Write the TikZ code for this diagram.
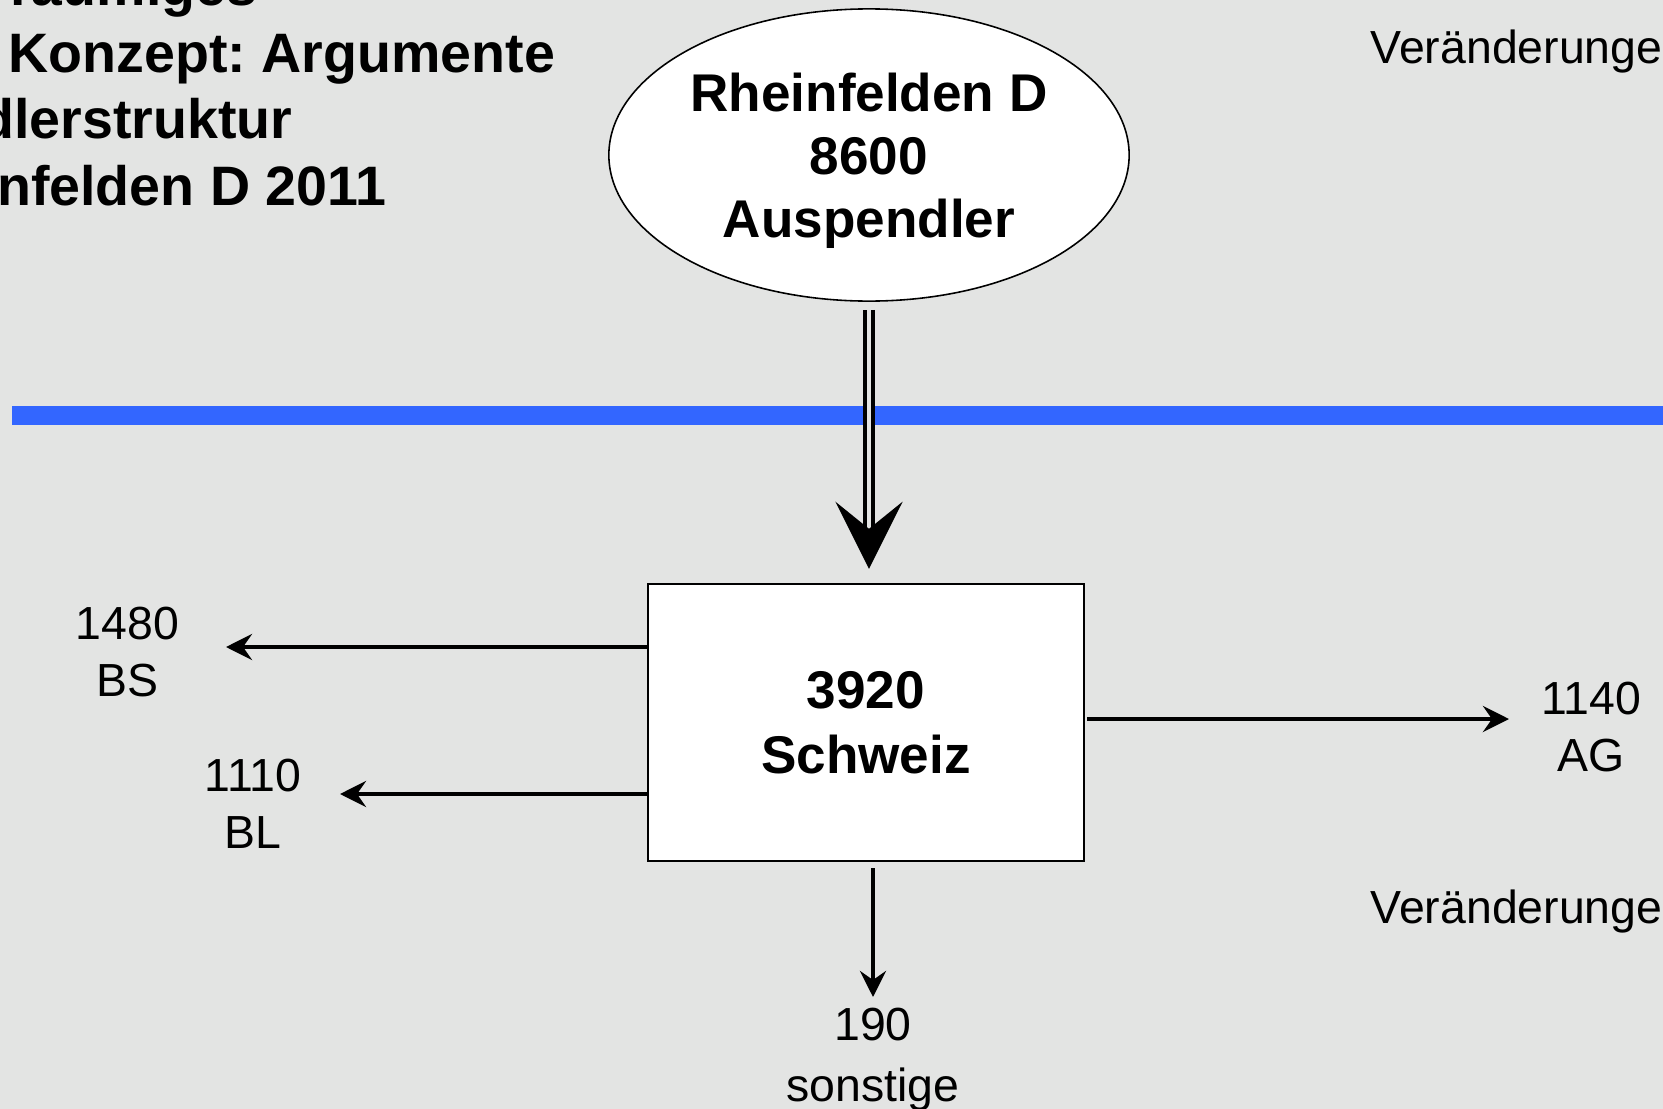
\documentclass[tikz,border=0pt]{standalone}
\usepackage{fontspec}
\setmainfont{Liberation Sans}
\usetikzlibrary{shapes.geometric,arrows.meta}
\definecolor{slidegray}{RGB}{227,228,227}
\definecolor{borderblue}{RGB}{51,102,255}
\frenchspacing

\begin{document}
\begin{tikzpicture}[x=0.01cm,y=-0.01cm,
  titlestyle/.style={inner sep=0,font=\fontsize{15.8}{18.9}\selectfont\bfseries},
  ovalstyle/.style={ellipse,draw,fill=white,line width=0.45pt,minimum width=5.2cm,minimum height=2.92cm,inner sep=0,align=center,text depth=0pt,font=\fontsize{15.1}{17.9}\selectfont\bfseries},
  boxstyle/.style={rectangle,draw,fill=white,line width=0.6pt,minimum width=4.36cm,minimum height=2.77cm,inner sep=0,align=center,font=\fontsize{15.1}{18.5}\selectfont\bfseries},
  numstyle/.style={inner sep=0,align=center,font=\fontsize{13.2}{16.2}\selectfont},
  flowstyle/.style={line width=1.25pt,-{Stealth[length=0.26cm,width=0.26cm,inset=0.09cm]}},
  bigflow/.style={double=slidegray,double distance=1pt,line width=1.25pt,-{Stealth[length=0.67cm,width=0.67cm,inset=0.27cm]}}]
\fill[slidegray] (0,0) rectangle (1663,1109);
\useasboundingbox (0,0) rectangle (1663,1109);
% title (cut by the slide edge)
\node[titlestyle,anchor=base east] (t1) at (258,5.5) {räumiges};
\node[titlestyle,anchor=base west] (t2) at (8,72) {Konzept: Argumente};
\node[titlestyle,anchor=base east] (t3) at (293,138) {Pendlerstruktur};
\node[titlestyle,anchor=base east] (t4) at (387,205) {Rheinfelden D 2011};
\node[numstyle,anchor=base west] (v1) at (1370,63) {Veränderungen};
\node[numstyle,anchor=base west] (v2) at (1370,923) {Veränderungen};
% border line
\fill[borderblue] (12,406) rectangle (1663,424.7);
\node[ovalstyle] (rh) at (869,155) {Rheinfelden D\\8600\\Auspendler};
\node[boxstyle] (ch) at (866,722.5) {3920\\Schweiz};
\node[numstyle] (bs) at (127.5,652) {1480\\BS};
\node[numstyle] (bl) at (253,803.5) {1110\\BL};
\node[numstyle] (ag) at (1591,727) {1140\\AG};
\node[numstyle] (so) at (873,1059.7) {190\\[1pt]sonstige};
\coordinate (bsend) at (226,647);
\coordinate (blend) at (340,794);
\coordinate (agend) at (1509,719);
\coordinate (soend) at (873,997);
\draw[bigflow,shorten <=0.08cm,shorten >=0.14cm] (rh.south) -- (rh.south |- ch.north);
\draw[flowstyle] (ch.west |- bsend) -- (bsend);
\draw[flowstyle] (ch.west |- blend) -- (blend);
\draw[flowstyle,shorten <=0.02cm] (ch.east |- agend) -- (agend);
\draw[flowstyle,shorten <=0.06cm] (ch.south -| soend) -- (soend);
\end{tikzpicture}
\end{document}
